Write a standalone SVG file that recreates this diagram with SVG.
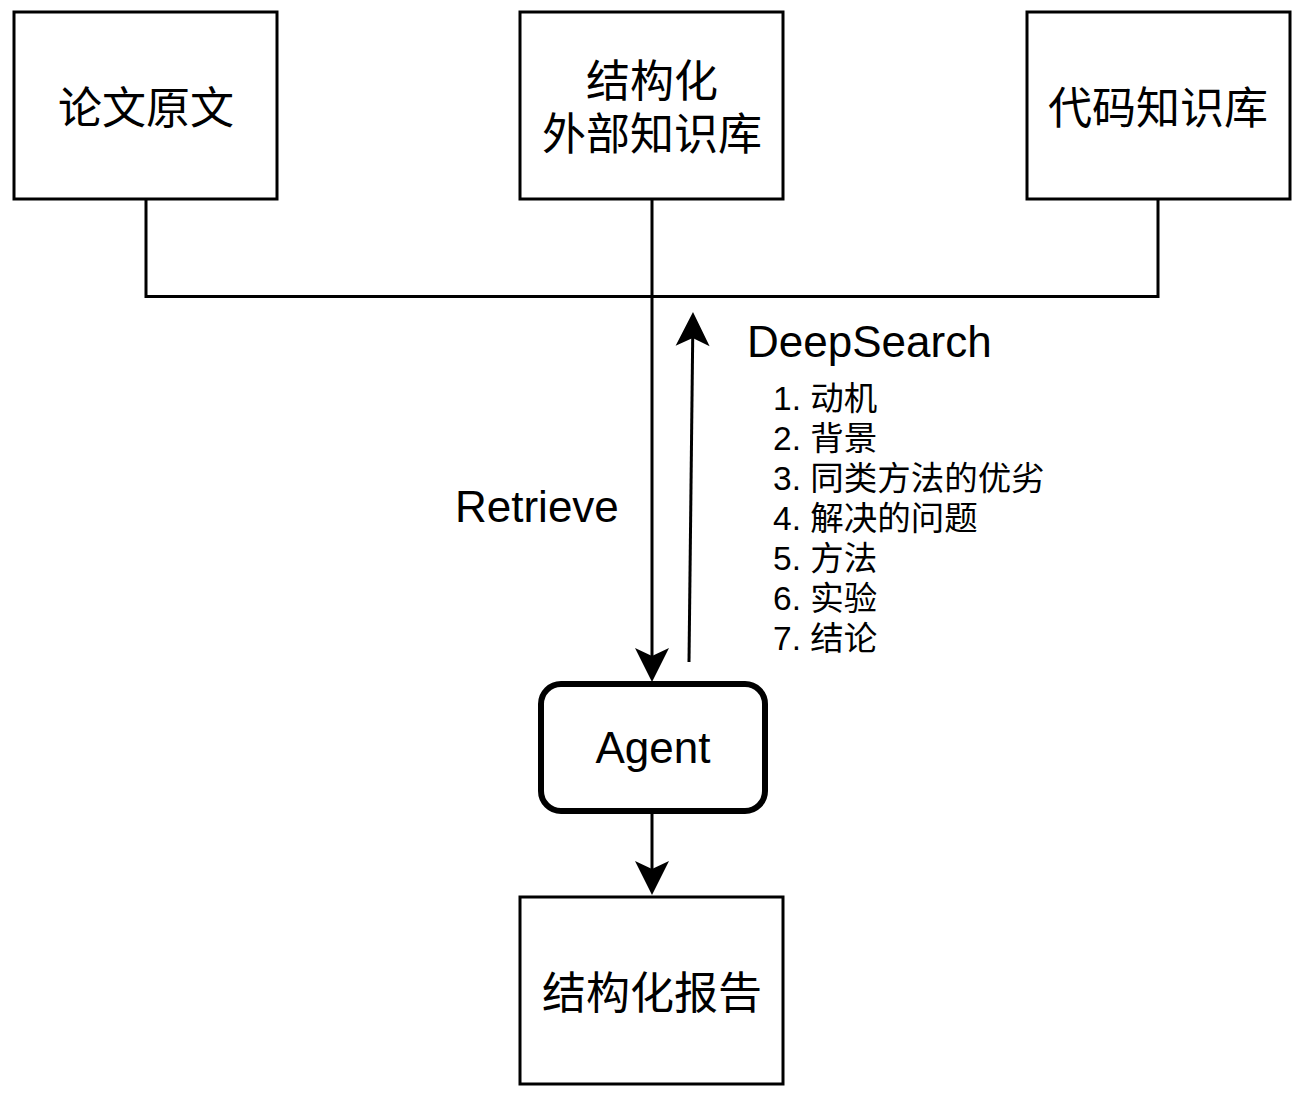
<svg xmlns="http://www.w3.org/2000/svg" width="1299" height="1097" viewBox="0 0 1299 1097">
<style>
.box{fill:#fff;stroke:#000;stroke-width:3}
.agent{fill:#fff;stroke:#000;stroke-width:6}
.cjk{font-family:"Noto Sans CJK SC","Liberation Sans",sans-serif;font-size:44px;fill:#000;text-anchor:middle}
.lat{font-family:"Liberation Sans","Noto Sans CJK SC",sans-serif;font-size:44px;fill:#000}
.list{font-family:"Liberation Sans","Noto Sans CJK SC",sans-serif;font-size:33.5px;fill:#000}
.ln{fill:none;stroke:#000;stroke-width:3}
</style>
<defs>
<marker id="ah" markerUnits="userSpaceOnUse" markerWidth="40" markerHeight="40" viewBox="-10 -20 40 40" refX="0" refY="0" orient="auto" overflow="visible">
<path d="M26,0 L-8,-17 L0,0 L-8,17 Z" fill="#000"/>
</marker>
</defs>
<rect width="1299" height="1097" fill="#fff"/>
<g id="connectors">
<path class="ln" d="M146,199 V296.5 H1158 V199"/>
<line class="ln" x1="652" y1="199" x2="652" y2="656" marker-end="url(#ah)"/>
<line class="ln" x1="689" y1="662" x2="692.7" y2="338" marker-end="url(#ah)"/>
<line class="ln" x1="652" y1="814" x2="652" y2="869" marker-end="url(#ah)"/>
</g>
<g id="node-paper">
<rect class="box" x="14" y="12" width="263" height="187"/>
<text class="cjk" x="146" y="124">论文原文</text>
</g>
<g id="node-kb">
<rect class="box" x="520" y="12" width="263" height="187"/>
<text class="cjk" x="652" y="97">结构化</text>
<text class="cjk" x="652" y="150">外部知识库</text>
</g>
<g id="node-code">
<rect class="box" x="1027" y="12" width="263" height="187"/>
<text class="cjk" x="1158" y="124">代码知识库</text>
</g>
<g id="label-retrieve">
<text class="lat" x="455" y="522">Retrieve</text>
</g>
<g id="label-deepsearch">
<text class="lat" x="747" y="357" font-size="44.6">DeepSearch</text>
<text class="list" x="773" y="410">1. 动机</text>
<text class="list" x="773" y="450">2. 背景</text>
<text class="list" x="773" y="490">3. 同类方法的优劣</text>
<text class="list" x="773" y="530">4. 解决的问题</text>
<text class="list" x="773" y="570">5. 方法</text>
<text class="list" x="773" y="610">6. 实验</text>
<text class="list" x="773" y="650">7. 结论</text>
</g>
<g id="node-agent">
<rect class="agent" x="541" y="684" width="224" height="127" rx="20" ry="20"/>
<text class="lat" x="653" y="763" text-anchor="middle">Agent</text>
</g>
<g id="node-report">
<rect class="box" x="520" y="897" width="263" height="187"/>
<text class="cjk" x="652" y="1009">结构化报告</text>
</g>
</svg>
